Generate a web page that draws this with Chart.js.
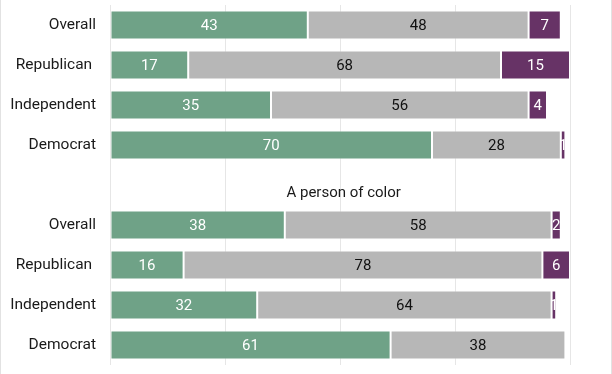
<!DOCTYPE html>
<html>
<head>
<meta charset="utf-8">
<script src="https://cdn.jsdelivr.net/npm/chart.js@4/dist/chart.umd.min.js"></script>
<style>
  html, body { margin: 0; padding: 0; background: #ffffff; }
  #wrap { width: 612px; height: 374px; position: relative; }
</style>
</head>
<body>
<div id="wrap"><canvas id="c" width="612" height="374"></canvas></div>
<script>
// ---- Data ----
const categories = ["Overall", "Republican ", "Independent", "Democrat", "", "Overall", "Republican ", "Independent", "Democrat"];
const groupTitle = "A person of color";
// top group
const greenTop  = [43, 17, 35, 70];
const grayTop   = [48, 68, 56, 28];
const purpleTop = [7, 15, 4, 1];
// bottom group: A person of color
const greenPoc  = [38, 16, 32, 61];
const grayPoc   = [58, 78, 64, 38];
const purplePoc = [2, 6, 1, 0];
const xTicks = [0, 25, 50, 75, 100];

const green  = [...greenTop, null, ...greenPoc];
const gray   = [...grayTop, null, ...grayPoc];
const purple = [...purpleTop, null, ...purplePoc];

const FONT = "Roboto, 'Noto Sans', sans-serif";

const frame = {
  id: 'frame',
  beforeDraw(chart) {
    const ctx = chart.ctx;
    ctx.save();
    ctx.fillStyle = '#ffffff';
    ctx.fillRect(0, 0, chart.width, chart.height);
    ctx.strokeStyle = '#e2e2e2';
    ctx.lineWidth = 1;
    ctx.beginPath();
    ctx.moveTo(0.5, 0); ctx.lineTo(0.5, chart.height);
    ctx.moveTo(chart.width - 0.5, 0); ctx.lineTo(chart.width - 0.5, chart.height);
    ctx.stroke();
    ctx.restore();
  }
};

const labelsPlugin = {
  id: 'barLabels',
  afterDatasetsDraw(chart) {
    const ctx = chart.ctx;
    ctx.save();
    ctx.font = "15px " + FONT;
    ctx.textAlign = 'center';
    ctx.textBaseline = 'middle';
    chart.data.datasets.forEach((ds, di) => {
      const meta = chart.getDatasetMeta(di);
      meta.data.forEach((bar, i) => {
        const v = ds.data[i];
        if (v === null || v === undefined || v === 0) return;
        const cx = (bar.x + bar.base) / 2;
        ctx.fillStyle = ds.labelColor;
        ctx.fillText(String(v), cx, bar.y + 1);
      });
    });
    // group title
    const xs = chart.scales.x, ys = chart.scales.y;
    ctx.fillStyle = '#1a1a1a';
    ctx.font = "15px " + FONT;
    ctx.fillText(groupTitle, xs.getPixelForValue(50.8), ys.getPixelForValue(4.2));
    ctx.restore();
  }
};

new Chart(document.getElementById('c'), {
  type: 'bar',
  data: {
    labels: categories,
    datasets: [
      { label: 'green', data: green, backgroundColor: '#6fa287', labelColor: '#ffffff' },
      { label: 'gray', data: gray, backgroundColor: '#b7b7b7', labelColor: '#111111' },
      { label: 'purple', data: purple, backgroundColor: '#673366', labelColor: '#ffffff' }
    ].map(d => Object.assign(d, {
      borderColor: 'rgba(255,255,255,0.35)',
      borderWidth: 1,
      borderSkipped: false,
      barPercentage: 0.72,
      categoryPercentage: 1.0
    }))
  },
  options: {
    indexAxis: 'y',
    responsive: false,
    animation: false,
    events: [],
    layout: { padding: { top: 5, bottom: 9, left: 0, right: 42 } },
    plugins: { legend: { display: false }, tooltip: { enabled: false }, title: { display: false } },
    scales: {
      x: {
        stacked: true,
        min: 0, max: 100,
        afterBuildTicks(s) { s.ticks = xTicks.map(v => ({ value: v })); },
        ticks: { display: false },
        grid: { color: '#e6e6e6', lineWidth: 1, drawTicks: false },
        border: { display: false },
        afterFit(s) { s.height = 0; s.paddingLeft = 0; s.paddingRight = 0; s.paddingTop = 0; s.paddingBottom = 0; }
      },
      y: {
        stacked: true,
        grid: { display: false, drawTicks: false },
        border: { display: false },
        ticks: { color: '#1a1a1a', font: { family: FONT, size: 15.5 }, padding: 14, autoSkip: false },
        afterFit(s) { s.width = 110; s.paddingTop = 0; s.paddingBottom = 0; s.paddingLeft = 0; s.paddingRight = 0; }
      }
    }
  },
  plugins: [frame, labelsPlugin]
});
</script>
</body>
</html>
